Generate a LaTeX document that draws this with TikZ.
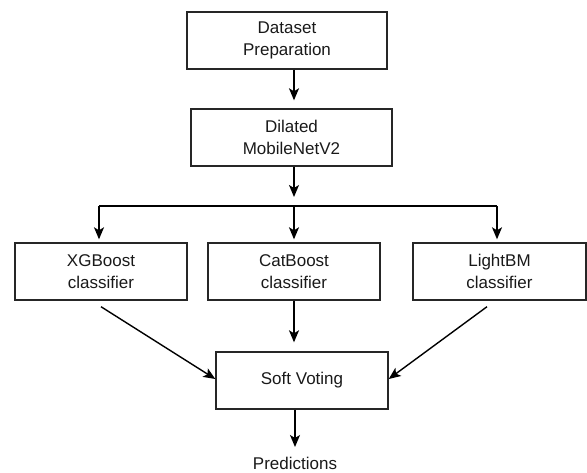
\documentclass[tikz,border=0pt]{standalone}
\usepackage{fontspec}
\setmainfont{Liberation Sans}
\usetikzlibrary{arrows.meta}
\begin{document}
\begin{tikzpicture}[x=1pt,y=-1pt,
  box/.style={draw=black!85,line width=1.4pt,minimum height=57pt,align=center,
    inner sep=0pt,font=\fontsize{17}{22}\selectfont,text=black!90},
  arr/.style={line width=1.4pt,-{Stealth[length=12pt,width=10pt,inset=3pt]}},
  ln/.style={line width=1.4pt}]
\useasboundingbox (0,0) rectangle (587,472);
\node[box,minimum width=200pt] (ds) at (287,40.5) {Dataset\\Preparation};
\node[box,minimum width=201pt] (dm) at (291.5,137.5) {Dilated\\MobileNetV2};
\node[box,minimum width=172pt] (xg) at (101,271.5) {XGBoost\\classifier};
\node[box,minimum width=172pt] (cb) at (294,271.5) {CatBoost\\classifier};
\node[box,minimum width=173pt] (lb) at (499.5,271.5) {LightBM\\classifier};
\node[box,minimum width=172pt] (sv) at (302,380.5) {Soft Voting};
\node[anchor=base,font=\fontsize{17}{22}\selectfont,text=black!90,inner sep=0pt] (pr) at (295,469.5) {Predictions};
\coordinate (ax) at (294,0);
\coordinate (busL) at (99,206);
\coordinate (busM) at (294,206);
\coordinate (busR) at (497,206);
\coordinate (prtip) at (295,447);
\draw[arr,shorten >=8pt] (ds.south -| ax) -- (dm.north -| ax);
\draw[arr,shorten >=9pt] (dm.south -| ax) -- (busM);
\draw[ln] (busL) -- (busR);
\draw[arr,shorten >=3pt] (busL) -- (busL |- xg.north);
\draw[arr,shorten >=3pt] (busM) -- (busM |- cb.north);
\draw[arr,shorten >=3pt] (busR) -- (busR |- lb.north);
\draw[arr,shorten >=9pt] (cb.south -| ax) -- (sv.north -| ax);
\draw[arr] ([yshift=-6pt]xg.south) -- ([yshift=1.5pt]sv.west);
\draw[arr] ([xshift=-12.5pt,yshift=-6pt]lb.south) -- ([yshift=1.5pt]sv.east);
\draw[arr] (sv.south -| prtip) -- (prtip);
\end{tikzpicture}
\end{document}
